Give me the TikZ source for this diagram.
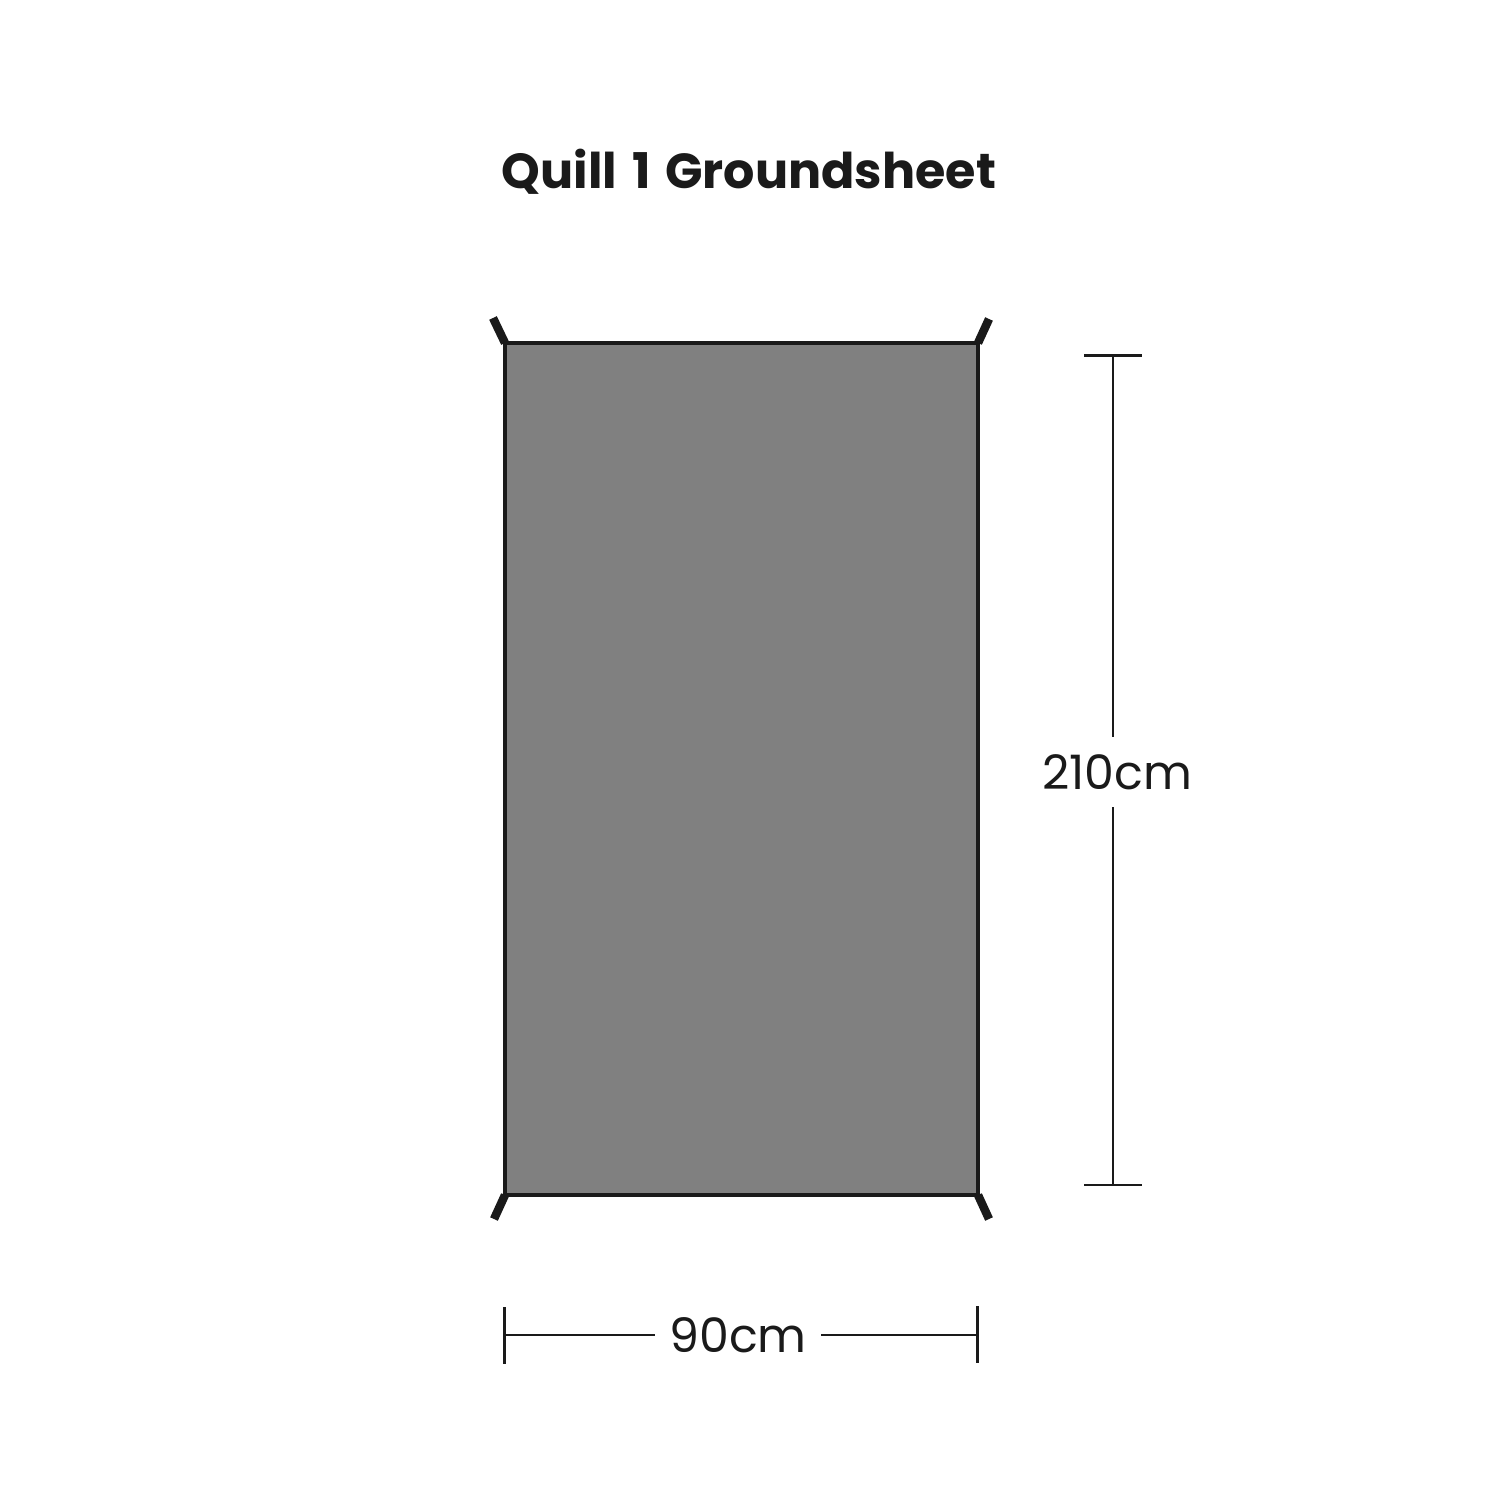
\documentclass[tikz,border=0pt]{standalone}
\usepackage{fontspec}
\setmainfont{Poppins}
\usetikzlibrary{calc}

\definecolor{sheetgray}{HTML}{808080}
\definecolor{inkblack}{HTML}{1A1A1A}

\tikzset{
  sheet/.style={draw=inkblack, fill=sheetgray, line width=1.2pt, minimum width=4.73cm, minimum height=8.52cm, inner sep=0pt, outer sep=0pt},
  tab/.style={draw=inkblack, line width=2.4pt},
  dimline/.style={draw=inkblack, line width=0.6pt},
  dimtick/.style={draw=inkblack, line width=0.75pt},
  dimlabel/.style={text=inkblack, font=\fontsize{13.5}{16}\selectfont, inner xsep=0.14cm, inner ysep=0.17cm},
  title/.style={text=inkblack, font=\fontsize{14}{17}\selectfont\bfseries}
}

\begin{document}
\begin{tikzpicture}

\useasboundingbox[fill=white] (0,0) rectangle (14.99,-14.99);

\node[title] (title) at (7.49,-1.72) {Quill\hspace{0.3em}1\hspace{0.3em}Groundsheet};

\node[sheet] (sheet) at (7.415,-7.69) {};

% corner tabs
\draw[tab] (sheet.north west) -- ++(-0.12,0.25);
\draw[tab] (sheet.north east) -- ++(0.11,0.24);
\draw[tab] (sheet.south west) -- ++(-0.11,-0.24);
\draw[tab] (sheet.south east) -- ++(0.11,-0.24);

% length
\node[dimlabel] (length) at (11.17,-7.72) {210cm};
\coordinate (vtop) at (11.13,-3.555);
\coordinate (vbot) at (11.13,-11.85);
\draw[dimtick] ($(vtop)+(-0.29,0)$) -- ($(vtop)+(0.29,0)$);
\draw[dimtick] ($(vbot)+(-0.29,0)$) -- ($(vbot)+(0.29,0)$);
\draw[dimline] (vtop) -- (vtop |- length.north);
\draw[dimline] (vbot) -- (vbot |- length.south);

% width
\node[dimlabel] (width) at (7.38,-13.35) {90cm};
\coordinate (hleft) at (5.045,-13.35);
\coordinate (hright) at (9.775,-13.35);
\draw[dimtick] ($(hleft)+(0,0.28)$) -- ($(hleft)+(0,-0.29)$);
\draw[dimtick] ($(hright)+(0,0.29)$) -- ($(hright)+(0,-0.28)$);
\draw[dimline] (hleft) -- (width.west);
\draw[dimline] (hright) -- (width.east);

\end{tikzpicture}
\end{document}
